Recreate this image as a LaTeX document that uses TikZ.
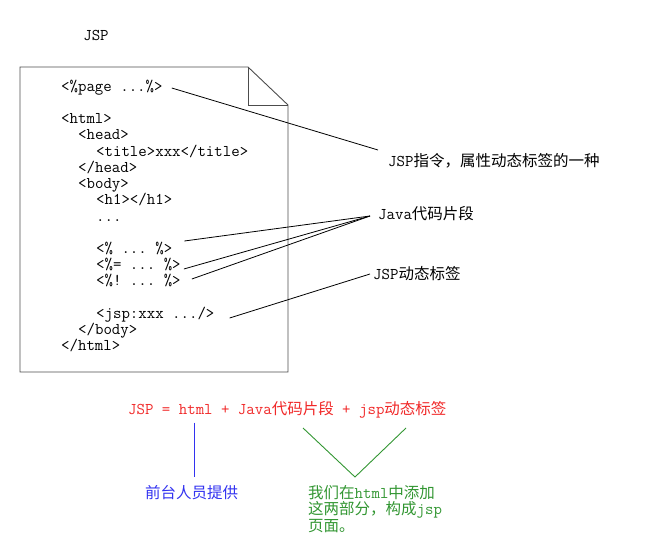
\documentclass[tikz,border=0pt]{standalone}
\usepackage{fontspec}
\newfontfamily\cjk{Noto Sans CJK SC}
\newcommand{\codefont}{\fontsize{16.4}{16.4}\selectfont\ttfamily\frenchspacing}
\newcommand{\zh}[1]{{\fontsize{15.5}{16.4}\selectfont\cjk #1}}
\definecolor{fmlred}{RGB}{240,40,40}
\definecolor{devblue}{RGB}{50,50,240}
\definecolor{addgreen}{RGB}{50,150,50}
\tikzset{
  code/.style={anchor=west, inner sep=0pt, font=\codefont, text height=10pt, text depth=3pt},
  lbl/.style={anchor=west, inner sep=0pt, font=\codefont},
  lead/.style={line width=0.8pt, black}
}
\begin{document}
\begin{tikzpicture}[x=1pt,y=-1pt]
\useasboundingbox (0,0) rectangle (657,556);

% page with folded corner
\draw [line width=0.9pt, black!70] (20,67) -- (248,67) -- (288,105) -- (288,372) -- (20,372) -- cycle;
\draw [line width=0.9pt, black!70] (248,67) -- (248,105) -- (288,105);
\node [font=\codefont] (title) at (96,35) {JSP};

\node [code] (page)  at (61,88)  {<\%page ...\%>};
\node [code] (html)  at (61,120) {<html>};
\node [code] (head)  at (78,136) {<head>};
\node [code] (ttl)   at (96,153) {<title>xxx</title>};
\node [code] (ehead) at (78,169) {</head>};
\node [code] (body)  at (78,185) {<body>};
\node [code] (hone)  at (96,201) {<h1></h1>};
\node [code] (dots)  at (96,218) {...};
\node [code] (scrl)  at (96,250) {<\% ... \%>};
\node [code] (expr)  at (96,266) {<\%= ... \%>};
\node [code] (decl)  at (96,282) {<\%! ... \%>};
\node [code] (jsp)   at (96,315) {<jsp:xxx .../>};
\node [code] (ebody) at (78,331) {</body>};
\node [code] (ehtml) at (61,347) {</html>};

% labels on the right
\node [lbl] (dirlbl)  at (388,161) {JSP\zh{指令，属性动态标签的一种}};
\node [lbl] (javalbl) at (378,214) {Java\zh{代码片段}};
\node [lbl] (taglbl)  at (373,274) {JSP\zh{动态标签}};

\draw [lead] ([xshift=9pt]page.east) -- ([xshift=-10pt,yshift=11pt]dirlbl.west);
\draw [lead] ([xshift=12pt,yshift=9pt]scrl.east) -- ([xshift=-8pt,yshift=-2pt]javalbl.west);
\draw [lead] ([xshift=3pt,yshift=-3pt]expr.east) -- ([xshift=-8pt,yshift=-2pt]javalbl.west);
\draw [lead] ([xshift=11pt,yshift=3pt]decl.east) -- ([xshift=-8pt,yshift=-2pt]javalbl.west);
\draw [lead] ([xshift=15pt,yshift=-3pt]jsp.east) -- ([xshift=-3pt]taglbl.west);

% formula
\node [lbl, text=fmlred] (formula) at (128,410) {JSP = html + Java\zh{代码片段} + jsp\zh{动态标签}};

\node [lbl, text=devblue] (devlbl) at (145,493) {\zh{前台人员提供}};
\draw [line width=0.9pt, devblue] ([xshift=66pt,yshift=-4pt]formula.south west) -- ++(0,54);

\coordinate (vleft)  at (303,428);
\coordinate (vtip)   at (355,477);
\coordinate (vright) at (406,428);
\draw [line width=0.9pt, addgreen] (vleft) -- (vtip) -- (vright);
\node [anchor=north west, inner sep=0pt, align=left, text=addgreen, font=\codefont] (addlbl) at (308,485)
  {\zh{我们在}html\zh{中添加}\\\zh{这两部分，构成}jsp\\\zh{页面。}};
\end{tikzpicture}
\end{document}
